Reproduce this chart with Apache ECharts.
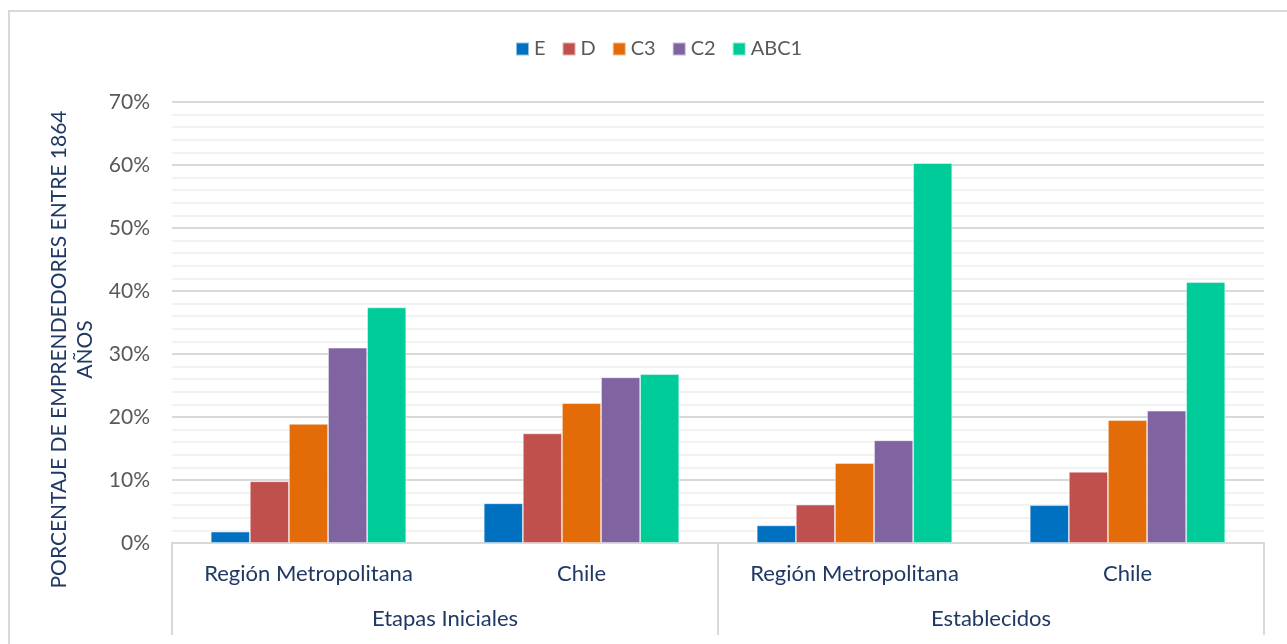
<!DOCTYPE html>
<html>
<head>
<meta charset="utf-8">
<script src="https://cdn.jsdelivr.net/npm/echarts@6/dist/echarts.min.js"></script>
<style>
  html, body { margin: 0; padding: 0; background: #fff; overflow: hidden; }
  #chart { position: absolute; left: 0; top: 0; width: 1287px; height: 644px; }
  #frame { position: absolute; left: 8px; top: 10px; width: 1300px; height: 700px;
           border: 2px solid #d9d9d9; pointer-events: none; }
</style>
</head>
<body>
<div id="chart"></div>
<div id="frame"></div>
<script>
// Regions within each stage
const regions = ['Región Metropolitana', 'Chile', 'Región Metropolitana', 'Chile'];
// Entrepreneurial stages (outer axis level)
const stages = ['Etapas Iniciales', 'Establecidos'];
// Socio-economic groups
const groups = ['E', 'D', 'C3', 'C2', 'ABC1'];
const groupColors = ['#0070C0', '#C0504D', '#E36C09', '#8064A2', '#00CC99'];

// Share of entrepreneurs (%) per group, in region order
const valuesE    = [1.8, 6.3, 2.8, 6.0];
const valuesD    = [9.8, 17.4, 6.1, 11.3];
const valuesC3   = [18.9, 22.2, 12.7, 19.5];
const valuesC2   = [31.0, 26.3, 16.3, 21.0];
const valuesABC1 = [37.4, 26.8, 60.3, 41.4];
const seriesValues = [valuesE, valuesD, valuesC3, valuesC2, valuesABC1];

const yTitle = 'PORCENTAJE DE EMPRENDEDORES ENTRE 1864\nAÑOS';
const fontFamily = 'Lato, "Open Sans", sans-serif';

const chart = echarts.init(document.getElementById('chart'), null, { renderer: 'canvas' });

chart.setOption({
  animation: false,
  color: groupColors,
  textStyle: { fontFamily: fontFamily },
  legend: {
    top: 34,
    left: 510,
    icon: 'rect',
    itemWidth: 13,
    itemHeight: 13,
    itemGap: 16,
    textStyle: { fontSize: 20, color: '#595959', fontFamily: fontFamily },
    data: groups
  },
  grid: { left: 172, right: 23, top: 102, bottom: 101, containLabel: false },
  xAxis: [
    {
      type: 'category',
      data: regions,
      axisLine: { show: true, lineStyle: { color: '#d9d9d9', width: 2 } },
      axisTick: { show: false },
      axisLabel: { fontSize: 22, color: '#1F3864', margin: 20, fontFamily: fontFamily }
    },
    {
      type: 'category',
      position: 'bottom',
      data: stages,
      axisLine: { show: false },
      axisTick: { show: true, length: 92, lineStyle: { color: '#d9d9d9', width: 2 } },
      axisLabel: { fontSize: 22, color: '#1F3864', margin: 65, fontFamily: fontFamily },
      splitLine: { show: false }
    }
  ],
  yAxis: {
    type: 'value',
    min: 0,
    max: 70,
    interval: 10,
    axisLine: { show: false },
    axisTick: { show: false },
    axisLabel: { formatter: '{value}%', fontSize: 21, color: '#595959', margin: 22, fontFamily: fontFamily },
    splitLine: { lineStyle: { color: '#d9d9d9', width: 2 } },
    minorTick: { show: false, splitNumber: 5 },
    minorSplitLine: { show: true, lineStyle: { color: '#f2f2f2', width: 2 } },
    name: yTitle,
    nameLocation: 'middle',
    nameGap: 72,
    nameRotate: 90,
    nameTextStyle: {
      fontSize: 21,
      color: '#1F3864',
      lineHeight: 26,
      align: 'center',
      fontFamily: fontFamily,
      padding: [0, 54, 0, 0]
    }
  },
  series: groups.map((name, i) => ({
    name: name,
    type: 'bar',
    xAxisIndex: 0,
    data: seriesValues[i],
    barGap: '0%',
    barCategoryGap: '28.4%',
    itemStyle: { color: groupColors[i], borderColor: 'rgba(255,255,255,0.55)', borderWidth: 0.8 }
  }))
});
</script>
</body>
</html>
